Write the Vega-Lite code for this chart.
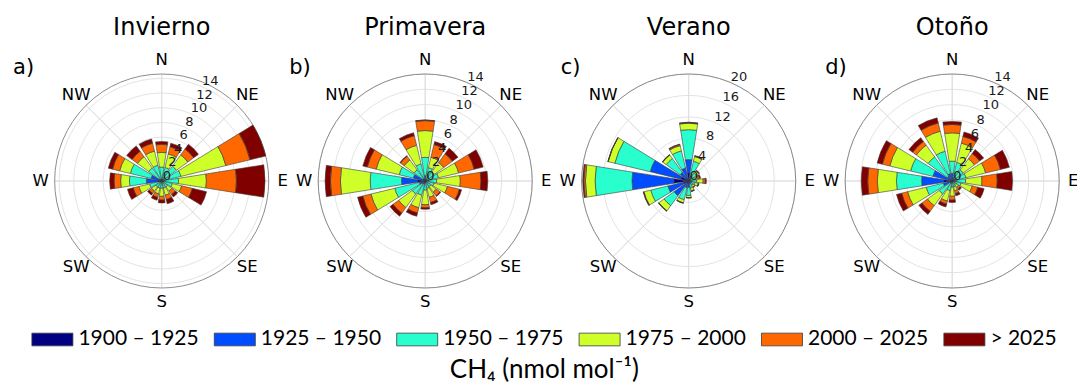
{
  "$schema": "https://vega.github.io/schema/vega-lite/v6.json",
  "background": "white",
  "padding": {"left": 12.7, "top": 15, "right": 0, "bottom": 0},
  "autosize": {"type": "pad"},
  "config": {"view": {"stroke": null}},
  "spacing": 263.5,
  "bounds": "flush",
  "resolve": {"scale": {"theta": "independent", "radius": "independent"}},
  "datasets": {
    "compass": [{"a":0,"t":"N"},{"a":45,"t":"NE"},{"a":90,"t":"E"},{"a":135,"t":"SE"},{"a":180,"t":"S"},{"a":225,"t":"SW"},{"a":270,"t":"W"},{"a":315,"t":"NW"}],
    "rings14": [{"v":0},{"v":2},{"v":4},{"v":6},{"v":8},{"v":10},{"v":12},{"v":14}],
    "rings20": [{"v":0},{"v":4},{"v":8},{"v":12},{"v":16},{"v":20}],
    "rose": [
      {"s":"Invierno","d":"N","1900 – 1925":0.1,"1925 – 1950":0.2,"1950 – 1975":1.6,"1975 – 2000":2.0,"2000 – 2025":1.1,"> 2025":0.4},
      {"s":"Invierno","d":"NNE","1900 – 1925":0.1,"1925 – 1950":0.2,"1950 – 1975":1.6,"1975 – 2000":1.9,"2000 – 2025":1.0,"> 2025":0.5},
      {"s":"Invierno","d":"NE","1900 – 1925":0.1,"1925 – 1950":0.2,"1950 – 1975":2.2,"1975 – 2000":1.9,"2000 – 2025":1.0,"> 2025":0.8},
      {"s":"Invierno","d":"ENE","1900 – 1925":0.1,"1925 – 1950":0.3,"1950 – 1975":2.3,"1975 – 2000":6.3,"2000 – 2025":3.4,"> 2025":2.2},
      {"s":"Invierno","d":"E","1900 – 1925":0.2,"1925 – 1950":0.3,"1950 – 1975":1.8,"1975 – 2000":3.8,"2000 – 2025":4.1,"> 2025":3.9},
      {"s":"Invierno","d":"ESE","1900 – 1925":0.1,"1925 – 1950":0.2,"1950 – 1975":1.2,"1975 – 2000":1.3,"2000 – 2025":1.5,"> 2025":2.0},
      {"s":"Invierno","d":"SE","1900 – 1925":0.05,"1925 – 1950":0.1,"1950 – 1975":0.85,"1975 – 2000":0.7,"2000 – 2025":0.6,"> 2025":0.4},
      {"s":"Invierno","d":"SSE","1900 – 1925":0.05,"1925 – 1950":0.1,"1950 – 1975":0.85,"1975 – 2000":1.0,"2000 – 2025":0.6,"> 2025":0.6},
      {"s":"Invierno","d":"S","1900 – 1925":0.05,"1925 – 1950":0.1,"1950 – 1975":0.85,"1975 – 2000":1.1,"2000 – 2025":0.5,"> 2025":0.4},
      {"s":"Invierno","d":"SSW","1900 – 1925":0.05,"1925 – 1950":0.15,"1950 – 1975":0.8,"1975 – 2000":0.8,"2000 – 2025":0.5,"> 2025":0.4},
      {"s":"Invierno","d":"SW","1900 – 1925":0.05,"1925 – 1950":0.15,"1950 – 1975":0.8,"1975 – 2000":0.7,"2000 – 2025":0.4,"> 2025":0.3},
      {"s":"Invierno","d":"WSW","1900 – 1925":0.1,"1925 – 1950":0.2,"1950 – 1975":1.4,"1975 – 2000":1.5,"2000 – 2025":0.8,"> 2025":0.8},
      {"s":"Invierno","d":"W","1900 – 1925":0.6,"1925 – 1950":1.5,"1950 – 1975":2.3,"1975 – 2000":1.2,"2000 – 2025":0.9,"> 2025":0.6},
      {"s":"Invierno","d":"WNW","1900 – 1925":0.2,"1925 – 1950":1.3,"1950 – 1975":2.9,"1975 – 2000":1.5,"2000 – 2025":1.0,"> 2025":0.6},
      {"s":"Invierno","d":"NW","1900 – 1925":0.1,"1925 – 1950":0.3,"1950 – 1975":1.8,"1975 – 2000":1.9,"2000 – 2025":0.9,"> 2025":0.9},
      {"s":"Invierno","d":"NNW","1900 – 1925":0.1,"1925 – 1950":0.2,"1950 – 1975":1.9,"1975 – 2000":2.0,"2000 – 2025":1.1,"> 2025":0.6},
      {"s":"Primavera","d":"N","1900 – 1925":0.1,"1925 – 1950":0.6,"1950 – 1975":2.4,"1975 – 2000":3.5,"2000 – 2025":1.3,"> 2025":0.1},
      {"s":"Primavera","d":"NNE","1900 – 1925":0.1,"1925 – 1950":0.2,"1950 – 1975":1.5,"1975 – 2000":1.4,"2000 – 2025":1.7,"> 2025":0.4},
      {"s":"Primavera","d":"NE","1900 – 1925":0.1,"1925 – 1950":0.2,"1950 – 1975":1.2,"1975 – 2000":1.5,"2000 – 2025":1.4,"> 2025":0.9},
      {"s":"Primavera","d":"ENE","1900 – 1925":0.1,"1925 – 1950":0.2,"1950 – 1975":1.5,"1975 – 2000":2.7,"2000 – 2025":2.1,"> 2025":1.2},
      {"s":"Primavera","d":"E","1900 – 1925":0.1,"1925 – 1950":0.4,"1950 – 1975":1.0,"1975 – 2000":3.1,"2000 – 2025":2.7,"> 2025":0.9},
      {"s":"Primavera","d":"ESE","1900 – 1925":0.05,"1925 – 1950":0.15,"1950 – 1975":1.0,"1975 – 2000":1.8,"2000 – 2025":1.6,"> 2025":0.3},
      {"s":"Primavera","d":"SE","1900 – 1925":0.05,"1925 – 1950":0.15,"1950 – 1975":0.7,"1975 – 2000":0.9,"2000 – 2025":0.6,"> 2025":0.1},
      {"s":"Primavera","d":"SSE","1900 – 1925":0.05,"1925 – 1950":0.15,"1950 – 1975":0.8,"1975 – 2000":1.2,"2000 – 2025":0.7,"> 2025":0.3},
      {"s":"Primavera","d":"S","1900 – 1925":0.05,"1925 – 1950":0.25,"1950 – 1975":0.9,"1975 – 2000":1.9,"2000 – 2025":0.4,"> 2025":0.2},
      {"s":"Primavera","d":"SSW","1900 – 1925":0.1,"1925 – 1950":0.3,"1950 – 1975":1.5,"1975 – 2000":1.7,"2000 – 2025":0.7,"> 2025":0.45},
      {"s":"Primavera","d":"SW","1900 – 1925":0.1,"1925 – 1950":0.4,"1950 – 1975":1.6,"1975 – 2000":2.2,"2000 – 2025":0.9,"> 2025":0.5},
      {"s":"Primavera","d":"WSW","1900 – 1925":0.1,"1925 – 1950":0.7,"1950 – 1975":3.3,"1975 – 2000":3.2,"2000 – 2025":1.1,"> 2025":0.7},
      {"s":"Primavera","d":"W","1900 – 1925":1.0,"1925 – 1950":2.1,"1950 – 1975":4.1,"1975 – 2000":3.9,"2000 – 2025":1.3,"> 2025":0.7},
      {"s":"Primavera","d":"WNW","1900 – 1925":0.1,"1925 – 1950":1.5,"1950 – 1975":1.9,"1975 – 2000":3.1,"2000 – 2025":1.2,"> 2025":0.6},
      {"s":"Primavera","d":"NW","1900 – 1925":0.1,"1925 – 1950":0.3,"1950 – 1975":1.4,"1975 – 2000":1.6,"2000 – 2025":0.6,"> 2025":0.1},
      {"s":"Primavera","d":"NNW","1900 – 1925":0.1,"1925 – 1950":0.3,"1950 – 1975":1.9,"1975 – 2000":2.5,"2000 – 2025":1.3,"> 2025":0.4},
      {"s":"Verano","d":"N","1900 – 1925":1.5,"1925 – 1950":2.5,"1950 – 1975":5.6,"1975 – 2000":1.2,"2000 – 2025":0.1,"> 2025":0.1},
      {"s":"Verano","d":"NNE","1900 – 1925":0.3,"1925 – 1950":0.7,"1950 – 1975":2.8,"1975 – 2000":0.9,"2000 – 2025":0.1,"> 2025":0.1},
      {"s":"Verano","d":"NE","1900 – 1925":0.2,"1925 – 1950":0.4,"1950 – 1975":1.2,"1975 – 2000":0.5,"2000 – 2025":0.1,"> 2025":0.1},
      {"s":"Verano","d":"ENE","1900 – 1925":0.2,"1925 – 1950":0.3,"1950 – 1975":0.7,"1975 – 2000":0.6,"2000 – 2025":0.3,"> 2025":0.2},
      {"s":"Verano","d":"E","1900 – 1925":0.2,"1925 – 1950":0.3,"1950 – 1975":1.0,"1975 – 2000":1.2,"2000 – 2025":0.4,"> 2025":0.2},
      {"s":"Verano","d":"ESE","1900 – 1925":0.2,"1925 – 1950":0.4,"1950 – 1975":0.6,"1975 – 2000":0.6,"2000 – 2025":0.1,"> 2025":0.1},
      {"s":"Verano","d":"SE","1900 – 1925":0.2,"1925 – 1950":0.3,"1950 – 1975":0.5,"1975 – 2000":0.4,"2000 – 2025":0.05,"> 2025":0.05},
      {"s":"Verano","d":"SSE","1900 – 1925":0.2,"1925 – 1950":0.4,"1950 – 1975":0.8,"1975 – 2000":0.5,"2000 – 2025":0.1,"> 2025":0.05},
      {"s":"Verano","d":"S","1900 – 1925":0.3,"1925 – 1950":0.9,"1950 – 1975":1.5,"1975 – 2000":0.4,"2000 – 2025":0.05,"> 2025":0.05},
      {"s":"Verano","d":"SSW","1900 – 1925":0.3,"1925 – 1950":1.0,"1950 – 1975":2.3,"1975 – 2000":0.6,"2000 – 2025":0.05,"> 2025":0.05},
      {"s":"Verano","d":"SW","1900 – 1925":0.6,"1925 – 1950":2.8,"1950 – 1975":2.3,"1975 – 2000":1.2,"2000 – 2025":0.05,"> 2025":0.05},
      {"s":"Verano","d":"WSW","1900 – 1925":1.0,"1925 – 1950":3.0,"1950 – 1975":3.3,"1975 – 2000":1.3,"2000 – 2025":0.1,"> 2025":0.05},
      {"s":"Verano","d":"W","1900 – 1925":2.8,"1925 – 1950":7.8,"1950 – 1975":6.9,"1975 – 2000":1.8,"2000 – 2025":0.3,"> 2025":0.2},
      {"s":"Verano","d":"WNW","1900 – 1925":1.5,"1925 – 1950":5.9,"1950 – 1975":6.8,"1975 – 2000":1.3,"2000 – 2025":0.0,"> 2025":0.05},
      {"s":"Verano","d":"NW","1900 – 1925":0.5,"1925 – 1950":1.5,"1950 – 1975":3.2,"1975 – 2000":0.8,"2000 – 2025":0.05,"> 2025":0.05},
      {"s":"Verano","d":"NNW","1900 – 1925":0.5,"1925 – 1950":2.0,"1950 – 1975":3.3,"1975 – 2000":1.0,"2000 – 2025":0.2,"> 2025":0.1},
      {"s":"Otoño","d":"N","1900 – 1925":0.2,"1925 – 1950":0.8,"1950 – 1975":1.6,"1975 – 2000":3.7,"2000 – 2025":1.1,"> 2025":0.4},
      {"s":"Otoño","d":"NNE","1900 – 1925":0.1,"1925 – 1950":0.4,"1950 – 1975":2.0,"1975 – 2000":2.6,"2000 – 2025":0.9,"> 2025":0.6},
      {"s":"Otoño","d":"NE","1900 – 1925":0.1,"1925 – 1950":0.3,"1950 – 1975":1.4,"1975 – 2000":1.8,"2000 – 2025":0.85,"> 2025":0.65},
      {"s":"Otoño","d":"ENE","1900 – 1925":0.1,"1925 – 1950":0.4,"1950 – 1975":1.35,"1975 – 2000":2.65,"2000 – 2025":2.0,"> 2025":1.2},
      {"s":"Otoño","d":"E","1900 – 1925":0.1,"1925 – 1950":0.5,"1950 – 1975":1.15,"1975 – 2000":2.15,"2000 – 2025":2.0,"> 2025":2.0},
      {"s":"Otoño","d":"ESE","1900 – 1925":0.1,"1925 – 1950":0.3,"1950 – 1975":0.8,"1975 – 2000":1.5,"2000 – 2025":0.75,"> 2025":0.85},
      {"s":"Otoño","d":"SE","1900 – 1925":0.05,"1925 – 1950":0.15,"1950 – 1975":0.4,"1975 – 2000":0.4,"2000 – 2025":0.3,"> 2025":0.2},
      {"s":"Otoño","d":"SSE","1900 – 1925":0.05,"1925 – 1950":0.15,"1950 – 1975":0.6,"1975 – 2000":0.5,"2000 – 2025":0.4,"> 2025":0.3},
      {"s":"Otoño","d":"S","1900 – 1925":0.05,"1925 – 1950":0.15,"1950 – 1975":0.6,"1975 – 2000":1.2,"2000 – 2025":0.5,"> 2025":0.3},
      {"s":"Otoño","d":"SSW","1900 – 1925":0.05,"1925 – 1950":0.25,"1950 – 1975":1.0,"1975 – 2000":1.4,"2000 – 2025":0.4,"> 2025":0.4},
      {"s":"Otoño","d":"SW","1900 – 1925":0.1,"1925 – 1950":0.3,"1950 – 1975":1.7,"1975 – 2000":1.9,"2000 – 2025":0.9,"> 2025":0.5},
      {"s":"Otoño","d":"WSW","1900 – 1925":0.1,"1925 – 1950":1.1,"1950 – 1975":2.3,"1975 – 2000":2.5,"2000 – 2025":0.8,"> 2025":0.7},
      {"s":"Otoño","d":"W","1900 – 1925":1.1,"1925 – 1950":2.9,"1950 – 1975":3.3,"1975 – 2000":2.5,"2000 – 2025":1.25,"> 2025":0.85},
      {"s":"Otoño","d":"WNW","1900 – 1925":0.3,"1925 – 1950":2.3,"1950 – 1975":3.0,"1975 – 2000":2.8,"2000 – 2025":1.0,"> 2025":0.7},
      {"s":"Otoño","d":"NW","1900 – 1925":0.1,"1925 – 1950":0.7,"1950 – 1975":3.1,"1975 – 2000":1.9,"2000 – 2025":0.6,"> 2025":0.6},
      {"s":"Otoño","d":"NNW","1900 – 1925":0.1,"1925 – 1950":0.9,"1950 – 1975":3.0,"1975 – 2000":2.7,"2000 – 2025":1.1,"> 2025":0.7}
    ]
  },
  "hconcat": [
    {
      "title": {"text": "a)", "anchor": "start", "frame": "group", "font": "DejaVu Sans", "fontSize": 21, "fontWeight": "normal", "color": "black", "offset": 0, "dx": -28.6, "dy": 62},
      "vconcat": [{
        "width": 240, "height": 250,
        "title": {"text": "Invierno", "font": "DejaVu Sans", "fontSize": 24, "fontWeight": "normal", "color": "black", "offset": 12},
        "resolve": {"scale": {"theta": "independent"}},
        "layer": [
          {"data": {"name": "rings14"}, "mark": {"type": "arc", "filled": false, "stroke": "#dcdcdc", "strokeWidth": 0.8},
           "encoding": {"theta": {"value": 0}, "theta2": {"value": 6.2832},
             "radius": {"field": "v", "type": "quantitative", "stack": null, "scale": {"type": "linear", "domain": [0, 14.6], "range": [0, 107], "zero": true, "nice": false}}}},
          {"data": {"name": "compass"}, "mark": {"type": "arc", "filled": false, "stroke": "#dcdcdc", "strokeWidth": 0.8},
           "encoding": {"theta": {"field": "a", "type": "quantitative", "scale": {"domain": [0, 360], "range": [0, 6.283185], "zero": true, "nice": false}},
             "theta2": {"field": "a"}, "radius": {"datum": 14.6, "type": "quantitative"}}},
          {"data": {"values": [{"v": 14.6}]}, "mark": {"type": "arc", "filled": false, "stroke": "#8c8c8c", "strokeWidth": 1},
           "encoding": {"theta": {"value": 0}, "theta2": {"value": 6.2832}, "radius": {"field": "v", "type": "quantitative", "stack": null}}},
          {"data": {"name": "rose"},
           "transform": [
             {"filter": "datum.s === 'Invierno'"},
             {"fold": ["1900 – 1925", "1925 – 1950", "1950 – 1975", "1975 – 2000", "2000 – 2025", "> 2025"], "as": ["cls", "freq"]},
             {"stack": "freq", "groupby": ["d"], "sort": [{"field": "cls", "order": "ascending"}], "as": ["r0", "r1"]}
           ],
           "mark": {"type": "arc", "stroke": "#3a3a3a", "strokeWidth": 0.6},
           "encoding": {
             "theta": {"field": "d", "type": "nominal", "scale": {"type": "band", "domain": ["N","NNE","NE","ENE","E","ESE","SE","SSE","S","SSW","SW","WSW","W","WNW","NW","NNW"], "range": [-0.19635, 6.08684], "paddingInner": 0.2, "paddingOuter": 0.1}},
             "radius": {"field": "r1", "type": "quantitative"},
             "radius2": {"field": "r0"},
             "color": {"field": "cls", "type": "nominal",
               "scale": {"domain": ["1900 – 1925", "1925 – 1950", "1950 – 1975", "1975 – 2000", "2000 – 2025", "> 2025"], "range": ["#000080", "#004cff", "#29ffce", "#ceff29", "#ff6800", "#800000"]},
               "legend": {"orient": "none", "legendX": -10.3, "legendY": 262.5, "direction": "horizontal",
                 "title": "CH₄ (nmol mol⁻¹)", "titleOrient": "bottom", "titleAnchor": "middle", "titleFont": "Lato", "titleFontSize": 26, "titleFontWeight": "normal", "titleColor": "black", "titlePadding": 8, "titleLimit": 1000,
                 "labelFont": "Lato", "labelFontSize": 21, "labelColor": "black", "labelOffset": 5, "labelLimit": 300,
                 "symbolType": "M-1,-0.31H1V0.31H-1Z", "symbolSize": 1681, "symbolStrokeColor": "#555555", "symbolStrokeWidth": 0.8, "symbolOpacity": 1,
                 "columnPadding": 12.4, "padding": 0}}
           }},
          {"data": {"name": "rings14"}, "mark": {"type": "text", "font": "DejaVu Sans", "fontSize": 13, "align": "left", "baseline": "alphabetic", "dx": 1, "dy": -1, "color": "#1a1a1a"},
           "encoding": {"theta": {"datum": 22.5, "type": "quantitative", "scale": {"domain": [0, 360], "range": [0, 6.283185], "zero": true, "nice": false}},
             "radius": {"field": "v", "type": "quantitative"}, "text": {"field": "v", "type": "quantitative", "format": "d"}}},
          {"data": {"name": "compass"}, "mark": {"type": "text", "font": "DejaVu Sans", "fontSize": 16.5, "align": "center", "baseline": "middle", "color": "black"},
           "encoding": {"theta": {"field": "a", "type": "quantitative", "scale": {"domain": [0, 360], "range": [0, 6.283185], "zero": true, "nice": false}},
             "radius": {"datum": 16.51, "type": "quantitative"}, "text": {"field": "t"}}}
        ]
      }]
    },
    {
      "title": {"text": "b)", "anchor": "start", "frame": "group", "font": "DejaVu Sans", "fontSize": 21, "fontWeight": "normal", "color": "black", "offset": 0, "dx": -16, "dy": 62},
      "vconcat": [{
        "width": 240, "height": 250,
        "title": {"text": "Primavera", "font": "DejaVu Sans", "fontSize": 24, "fontWeight": "normal", "color": "black", "offset": 12},
        "resolve": {"scale": {"theta": "independent"}},
        "layer": [
          {"data": {"name": "rings14"}, "mark": {"type": "arc", "filled": false, "stroke": "#dcdcdc", "strokeWidth": 0.8},
           "encoding": {"theta": {"value": 0}, "theta2": {"value": 6.2832},
             "radius": {"field": "v", "type": "quantitative", "stack": null, "scale": {"type": "linear", "domain": [0, 14.0], "range": [0, 107], "zero": true, "nice": false}}}},
          {"data": {"name": "compass"}, "mark": {"type": "arc", "filled": false, "stroke": "#dcdcdc", "strokeWidth": 0.8},
           "encoding": {"theta": {"field": "a", "type": "quantitative", "scale": {"domain": [0, 360], "range": [0, 6.283185], "zero": true, "nice": false}},
             "theta2": {"field": "a"}, "radius": {"datum": 14.0, "type": "quantitative"}}},
          {"data": {"values": [{"v": 14.0}]}, "mark": {"type": "arc", "filled": false, "stroke": "#8c8c8c", "strokeWidth": 1},
           "encoding": {"theta": {"value": 0}, "theta2": {"value": 6.2832}, "radius": {"field": "v", "type": "quantitative", "stack": null}}},
          {"data": {"name": "rose"},
           "transform": [
             {"filter": "datum.s === 'Primavera'"},
             {"fold": ["1900 – 1925", "1925 – 1950", "1950 – 1975", "1975 – 2000", "2000 – 2025", "> 2025"], "as": ["cls", "freq"]},
             {"stack": "freq", "groupby": ["d"], "sort": [{"field": "cls", "order": "ascending"}], "as": ["r0", "r1"]}
           ],
           "mark": {"type": "arc", "stroke": "#3a3a3a", "strokeWidth": 0.6},
           "encoding": {
             "theta": {"field": "d", "type": "nominal", "scale": {"type": "band", "domain": ["N","NNE","NE","ENE","E","ESE","SE","SSE","S","SSW","SW","WSW","W","WNW","NW","NNW"], "range": [-0.19635, 6.08684], "paddingInner": 0.2, "paddingOuter": 0.1}},
             "radius": {"field": "r1", "type": "quantitative"},
             "radius2": {"field": "r0"},
             "color": {"field": "cls", "type": "nominal"}
           }},
          {"data": {"name": "rings14"}, "mark": {"type": "text", "font": "DejaVu Sans", "fontSize": 13, "align": "left", "baseline": "alphabetic", "dx": 1, "dy": -1, "color": "#1a1a1a"},
           "encoding": {"theta": {"datum": 22.5, "type": "quantitative", "scale": {"domain": [0, 360], "range": [0, 6.283185], "zero": true, "nice": false}},
             "radius": {"field": "v", "type": "quantitative"}, "text": {"field": "v", "type": "quantitative", "format": "d"}}},
          {"data": {"name": "compass"}, "mark": {"type": "text", "font": "DejaVu Sans", "fontSize": 16.5, "align": "center", "baseline": "middle", "color": "black"},
           "encoding": {"theta": {"field": "a", "type": "quantitative", "scale": {"domain": [0, 360], "range": [0, 6.283185], "zero": true, "nice": false}},
             "radius": {"datum": 15.83, "type": "quantitative"}, "text": {"field": "t"}}}
        ]
      }]
    },
    {
      "title": {"text": "c)", "anchor": "start", "frame": "group", "font": "DejaVu Sans", "fontSize": 21, "fontWeight": "normal", "color": "black", "offset": 0, "dx": -8, "dy": 62},
      "vconcat": [{
        "width": 240, "height": 250,
        "title": {"text": "Verano", "font": "DejaVu Sans", "fontSize": 24, "fontWeight": "normal", "color": "black", "offset": 12},
        "resolve": {"scale": {"theta": "independent"}},
        "layer": [
          {"data": {"name": "rings20"}, "mark": {"type": "arc", "filled": false, "stroke": "#dcdcdc", "strokeWidth": 0.8},
           "encoding": {"theta": {"value": 0}, "theta2": {"value": 6.2832},
             "radius": {"field": "v", "type": "quantitative", "stack": null, "scale": {"type": "linear", "domain": [0, 20.0], "range": [0, 107], "zero": true, "nice": false}}}},
          {"data": {"name": "compass"}, "mark": {"type": "arc", "filled": false, "stroke": "#dcdcdc", "strokeWidth": 0.8},
           "encoding": {"theta": {"field": "a", "type": "quantitative", "scale": {"domain": [0, 360], "range": [0, 6.283185], "zero": true, "nice": false}},
             "theta2": {"field": "a"}, "radius": {"datum": 20.0, "type": "quantitative"}}},
          {"data": {"values": [{"v": 20.0}]}, "mark": {"type": "arc", "filled": false, "stroke": "#8c8c8c", "strokeWidth": 1},
           "encoding": {"theta": {"value": 0}, "theta2": {"value": 6.2832}, "radius": {"field": "v", "type": "quantitative", "stack": null}}},
          {"data": {"name": "rose"},
           "transform": [
             {"filter": "datum.s === 'Verano'"},
             {"fold": ["1900 – 1925", "1925 – 1950", "1950 – 1975", "1975 – 2000", "2000 – 2025", "> 2025"], "as": ["cls", "freq"]},
             {"stack": "freq", "groupby": ["d"], "sort": [{"field": "cls", "order": "ascending"}], "as": ["r0", "r1"]}
           ],
           "mark": {"type": "arc", "stroke": "#3a3a3a", "strokeWidth": 0.6},
           "encoding": {
             "theta": {"field": "d", "type": "nominal", "scale": {"type": "band", "domain": ["N","NNE","NE","ENE","E","ESE","SE","SSE","S","SSW","SW","WSW","W","WNW","NW","NNW"], "range": [-0.19635, 6.08684], "paddingInner": 0.2, "paddingOuter": 0.1}},
             "radius": {"field": "r1", "type": "quantitative"},
             "radius2": {"field": "r0"},
             "color": {"field": "cls", "type": "nominal"}
           }},
          {"data": {"name": "rings20"}, "mark": {"type": "text", "font": "DejaVu Sans", "fontSize": 13, "align": "left", "baseline": "alphabetic", "dx": 1, "dy": -1, "color": "#1a1a1a"},
           "encoding": {"theta": {"datum": 22.5, "type": "quantitative", "scale": {"domain": [0, 360], "range": [0, 6.283185], "zero": true, "nice": false}},
             "radius": {"field": "v", "type": "quantitative"}, "text": {"field": "v", "type": "quantitative", "format": "d"}}},
          {"data": {"name": "compass"}, "mark": {"type": "text", "font": "DejaVu Sans", "fontSize": 16.5, "align": "center", "baseline": "middle", "color": "black"},
           "encoding": {"theta": {"field": "a", "type": "quantitative", "scale": {"domain": [0, 360], "range": [0, 6.283185], "zero": true, "nice": false}},
             "radius": {"datum": 22.62, "type": "quantitative"}, "text": {"field": "t"}}}
        ]
      }]
    },
    {
      "title": {"text": "d)", "anchor": "start", "frame": "group", "font": "DejaVu Sans", "fontSize": 21, "fontWeight": "normal", "color": "black", "offset": 0, "dx": -7, "dy": 62},
      "vconcat": [{
        "width": 240, "height": 250,
        "title": {"text": "Otoño", "font": "DejaVu Sans", "fontSize": 24, "fontWeight": "normal", "color": "black", "offset": 12},
        "resolve": {"scale": {"theta": "independent"}},
        "layer": [
          {"data": {"name": "rings14"}, "mark": {"type": "arc", "filled": false, "stroke": "#dcdcdc", "strokeWidth": 0.8},
           "encoding": {"theta": {"value": 0}, "theta2": {"value": 6.2832},
             "radius": {"field": "v", "type": "quantitative", "stack": null, "scale": {"type": "linear", "domain": [0, 14.0], "range": [0, 107], "zero": true, "nice": false}}}},
          {"data": {"name": "compass"}, "mark": {"type": "arc", "filled": false, "stroke": "#dcdcdc", "strokeWidth": 0.8},
           "encoding": {"theta": {"field": "a", "type": "quantitative", "scale": {"domain": [0, 360], "range": [0, 6.283185], "zero": true, "nice": false}},
             "theta2": {"field": "a"}, "radius": {"datum": 14.0, "type": "quantitative"}}},
          {"data": {"values": [{"v": 14.0}]}, "mark": {"type": "arc", "filled": false, "stroke": "#8c8c8c", "strokeWidth": 1},
           "encoding": {"theta": {"value": 0}, "theta2": {"value": 6.2832}, "radius": {"field": "v", "type": "quantitative", "stack": null}}},
          {"data": {"name": "rose"},
           "transform": [
             {"filter": "datum.s === 'Otoño'"},
             {"fold": ["1900 – 1925", "1925 – 1950", "1950 – 1975", "1975 – 2000", "2000 – 2025", "> 2025"], "as": ["cls", "freq"]},
             {"stack": "freq", "groupby": ["d"], "sort": [{"field": "cls", "order": "ascending"}], "as": ["r0", "r1"]}
           ],
           "mark": {"type": "arc", "stroke": "#3a3a3a", "strokeWidth": 0.6},
           "encoding": {
             "theta": {"field": "d", "type": "nominal", "scale": {"type": "band", "domain": ["N","NNE","NE","ENE","E","ESE","SE","SSE","S","SSW","SW","WSW","W","WNW","NW","NNW"], "range": [-0.19635, 6.08684], "paddingInner": 0.2, "paddingOuter": 0.1}},
             "radius": {"field": "r1", "type": "quantitative"},
             "radius2": {"field": "r0"},
             "color": {"field": "cls", "type": "nominal"}
           }},
          {"data": {"name": "rings14"}, "mark": {"type": "text", "font": "DejaVu Sans", "fontSize": 13, "align": "left", "baseline": "alphabetic", "dx": 1, "dy": -1, "color": "#1a1a1a"},
           "encoding": {"theta": {"datum": 22.5, "type": "quantitative", "scale": {"domain": [0, 360], "range": [0, 6.283185], "zero": true, "nice": false}},
             "radius": {"field": "v", "type": "quantitative"}, "text": {"field": "v", "type": "quantitative", "format": "d"}}},
          {"data": {"name": "compass"}, "mark": {"type": "text", "font": "DejaVu Sans", "fontSize": 16.5, "align": "center", "baseline": "middle", "color": "black"},
           "encoding": {"theta": {"field": "a", "type": "quantitative", "scale": {"domain": [0, 360], "range": [0, 6.283185], "zero": true, "nice": false}},
             "radius": {"datum": 15.83, "type": "quantitative"}, "text": {"field": "t"}}}
        ]
      }]
    }
  ]
}
